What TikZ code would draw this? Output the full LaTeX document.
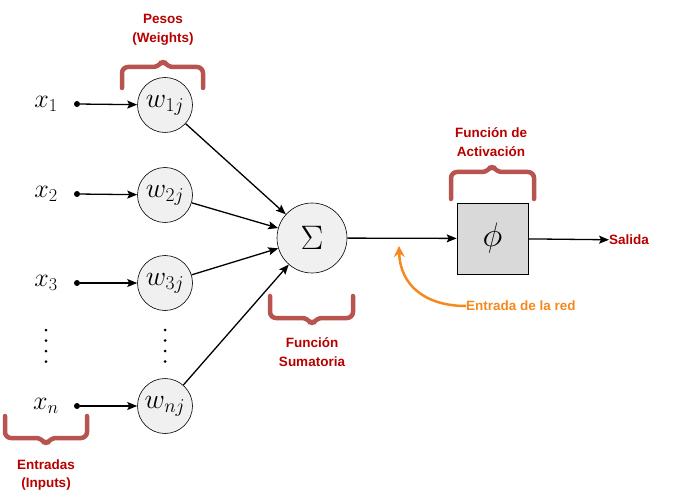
\RequirePackage{fix-cm}
\documentclass[tikz,border=0pt]{standalone}
\usepackage{fontspec}
\setsansfont{Liberation Sans}
\usetikzlibrary{arrows.meta}
\definecolor{bracec}{HTML}{B85450}
\definecolor{labred}{HTML}{B80000}
\definecolor{orangec}{HTML}{F5891F}
\definecolor{cfill}{HTML}{F0F0F0}
\definecolor{bfill}{HTML}{D9D9D9}
\tikzset{
  wnode/.style={circle,draw=black,fill=cfill,minimum size=55pt,inner sep=0pt,font=\fontsize{28}{30}\selectfont,line width=0.6pt},
  snode/.style={circle,draw=black,fill=cfill,minimum size=70pt,inner sep=0pt,font=\fontsize{34}{36}\selectfont,line width=0.6pt},
  boxnode/.style={rectangle,draw=black,fill=bfill,minimum size=71pt,inner sep=0pt,font=\fontsize{34}{36}\selectfont,line width=0.6pt},
  xlab/.style={inner sep=0pt,font=\fontsize{26}{28}\selectfont},
  lab/.style={text=labred,font=\sffamily\bfseries\fontsize{13.5}{18.5}\selectfont,align=center,inner sep=0pt},
  brace/.style={draw=bracec,line width=4.5pt,rounded corners=6pt,line cap=round},
  conn/.style={-{Stealth[length=10pt,width=8pt,inset=2pt]},line width=1.3pt},
  dotn/.style={circle,fill=black,minimum size=6pt,inner sep=0pt},
  vdot/.style={circle,fill=black,minimum size=3pt,inner sep=0pt},
}
\begin{document}
\begin{tikzpicture}[x=1pt,y=-1pt]
\useasboundingbox (0,0) rectangle (695,502);
% inputs
\node[xlab] (x1) at (46,104) {$x_1$};
\node[xlab] (x2) at (46,194) {$x_2$};
\node[xlab] (x3) at (46,283) {$x_3$};
\node[xlab] (xn) at (46,406) {$x_n$};
\foreach \i/\y in {1/330,2/340.5,3/351,4/361.5}{
  \node[vdot] (va\i) at (46,\y) {};
  \node[vdot] (vb\i) at (165,\y) {};
}
\node[dotn] (d1) at (77,104) {};
\node[dotn] (d2) at (77,194) {};
\node[dotn] (d3) at (77,283) {};
\node[dotn] (dn) at (77,406) {};
% weights
\node[wnode] (w1) at (165,105) {$w_{1j}$};
\node[wnode] (w2) at (165,195) {$w_{2j}$};
\node[wnode] (w3) at (165,283) {$w_{3j}$};
\node[wnode] (wn) at (165,406) {$w_{nj}$};
% sum and activation
\node[snode] (s) at (312,238) {$\Sigma$};
\node[boxnode] (phi) at (492.5,238.5) {$\phi$};
\node[lab,anchor=west] (out) at (609,240) {Salida};
% connectors
\draw[conn] (d1) -- (w1);
\draw[conn] (d2) -- (w2);
\draw[conn] (d3) -- (w3);
\draw[conn] (dn) -- (wn);
\draw[conn] (w1) -- (s);
\draw[conn] (w2) -- (s);
\draw[conn] (w3) -- (s);
\draw[conn] (wn) -- (s);
\draw[conn] (s) -- (phi);
\draw[conn] (phi) -- (out);
% labels
\node[lab] (lw) at (163,30) {Pesos\\(Weights)};
\node[lab] (la) at (491,142) {Función de\\Activación};
\node[lab] (ls) at (312,352) {Función\\Sumatoria};
\node[lab] (li) at (46,475) {Entradas\\(Inputs)};
\node[text=orangec,font=\sffamily\bfseries\fontsize{13.5}{16}\selectfont,anchor=west,inner sep=0pt] (ent) at (466,306) {Entrada de la red};
\coordinate (tip) at (399,246);
\draw[orangec,line width=2.5pt,-{Stealth[length=11pt,width=11pt]}] (ent.west) .. controls (425,306) and (400,285) .. (tip);
% braces
\draw[brace] (122,88) -- (122,67) -- (159,67) -- (163,59) -- (167,67) -- (203,67) -- (203,88);
\draw[brace] (451,199) -- (451,172) -- (488,172) -- (492,164) -- (496,172) -- (534,172) -- (534,199);
\draw[brace] (270,296) -- (270,318) -- (308,318) -- (312,326) -- (316,318) -- (353,318) -- (353,296);
\draw[brace] (5,416) -- (5,438) -- (42,438) -- (46,446) -- (50,438) -- (87,438) -- (87,416);
\end{tikzpicture}
\end{document}
